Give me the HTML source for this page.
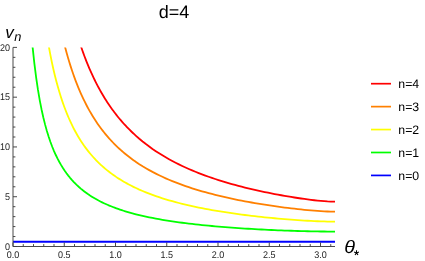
<!DOCTYPE html>
<html><head><meta charset="utf-8"><title>d=4</title>
<style>html,body{margin:0;padding:0;background:#fff;}body{width:425px;height:261px;position:relative;overflow:hidden;font-family:"Liberation Sans",sans-serif;}</style>
</head><body>
<svg width="425" height="261" viewBox="0 0 425 261" text-rendering="geometricPrecision" style="position:absolute;left:0;top:0;will-change:transform">
<defs><clipPath id="c"><rect x="11.00" y="47.40" width="326.01" height="202.10"/></clipPath></defs>
<g clip-path="url(#c)" fill="none" stroke-width="1.8" stroke-linejoin="round">
<path d="M30.85 27.43 L32.63 47.31 L34.42 63.87 L36.20 77.89 L37.98 89.91 L39.76 100.32 L41.55 109.44 L43.33 117.48 L45.11 124.63 L46.89 131.03 L48.67 136.79 L50.46 142.00 L52.24 146.73 L54.02 151.05 L55.80 155.02 L57.58 158.66 L59.37 162.03 L61.15 165.14 L62.93 168.04 L64.71 170.73 L66.50 173.24 L68.28 175.59 L70.06 177.79 L71.84 179.86 L73.62 181.81 L75.41 183.65 L77.19 185.38 L78.97 187.02 L80.75 188.57 L82.54 190.05 L84.32 191.44 L86.10 192.77 L87.88 194.04 L89.66 195.25 L91.45 196.40 L93.23 197.50 L95.01 198.55 L96.79 199.56 L98.57 200.53 L100.36 201.45 L102.14 202.34 L103.92 203.19 L105.70 204.01 L107.49 204.80 L109.27 205.56 L111.05 206.29 L112.83 207.00 L114.61 207.68 L116.40 208.34 L118.18 208.97 L119.96 209.58 L121.74 210.17 L123.52 210.75 L125.31 211.30 L127.09 211.84 L128.87 212.36 L130.65 212.86 L132.44 213.35 L134.22 213.82 L136.00 214.28 L139.30 215.10 L142.60 215.88 L145.90 216.61 L149.20 217.31 L152.50 217.97 L155.81 218.61 L159.11 219.21 L162.41 219.78 L165.71 220.33 L169.01 220.86 L172.31 221.36 L175.61 221.84 L178.91 222.30 L182.21 222.75 L185.51 223.17 L188.81 223.58 L192.11 223.97 L195.42 224.34 L198.72 224.71 L202.02 225.05 L205.32 225.39 L208.62 225.71 L211.92 226.02 L215.22 226.32 L218.52 226.60 L221.82 226.88 L225.12 227.15 L228.42 227.40 L231.72 227.65 L235.03 227.89 L238.33 228.12 L241.63 228.34 L244.93 228.55 L248.23 228.76 L251.53 228.96 L254.83 229.15 L258.13 229.33 L261.43 229.50 L264.73 229.67 L268.03 229.83 L271.33 229.99 L274.64 230.14 L277.94 230.28 L281.24 230.41 L284.54 230.54 L287.84 230.66 L291.14 230.77 L294.44 230.88 L297.74 230.98 L301.04 231.08 L304.34 231.16 L307.64 231.24 L310.94 231.31 L314.25 231.37 L317.55 231.43 L320.85 231.48 L324.15 231.51 L327.45 231.54 L330.75 231.56 L335.01 231.57" stroke="#00ff00"/>
<path d="M45.69 27.43 L47.22 37.23 L48.75 46.18 L50.28 54.40 L51.81 61.98 L53.34 68.97 L54.87 75.46 L56.40 81.48 L57.93 87.10 L59.46 92.35 L60.99 97.26 L62.52 101.87 L64.06 106.20 L65.59 110.28 L67.12 114.12 L68.65 117.76 L70.18 121.20 L71.71 124.46 L73.24 127.56 L74.77 130.50 L76.30 133.30 L77.83 135.97 L79.36 138.51 L80.89 140.94 L82.42 143.26 L83.95 145.48 L85.49 147.61 L87.02 149.65 L88.55 151.61 L90.08 153.49 L91.61 155.29 L93.14 157.03 L94.67 158.70 L96.20 160.31 L97.73 161.86 L99.26 163.36 L100.79 164.80 L102.32 166.19 L103.85 167.54 L105.39 168.84 L106.92 170.10 L108.45 171.32 L109.98 172.50 L111.51 173.65 L113.04 174.76 L114.57 175.83 L116.10 176.88 L117.63 177.89 L119.16 178.87 L120.69 179.83 L122.22 180.75 L123.75 181.66 L125.28 182.53 L126.82 183.39 L128.35 184.22 L129.88 185.03 L131.41 185.82 L132.94 186.59 L134.47 187.33 L136.00 188.06 L139.30 189.58 L142.60 191.01 L145.90 192.38 L149.20 193.67 L152.50 194.91 L155.81 196.09 L159.11 197.21 L162.41 198.28 L165.71 199.31 L169.01 200.29 L172.31 201.23 L175.61 202.14 L178.91 203.00 L182.21 203.83 L185.51 204.63 L188.81 205.40 L192.11 206.14 L195.42 206.85 L198.72 207.54 L202.02 208.20 L205.32 208.83 L208.62 209.45 L211.92 210.04 L215.22 210.62 L218.52 211.17 L221.82 211.70 L225.12 212.22 L228.42 212.72 L231.72 213.21 L235.03 213.67 L238.33 214.13 L241.63 214.57 L244.93 214.99 L248.23 215.40 L251.53 215.80 L254.83 216.18 L258.13 216.56 L261.43 216.92 L264.73 217.27 L268.03 217.60 L271.33 217.93 L274.64 218.24 L277.94 218.54 L281.24 218.84 L284.54 219.12 L287.84 219.39 L291.14 219.64 L294.44 219.89 L297.74 220.12 L301.04 220.34 L304.34 220.55 L307.64 220.74 L310.94 220.92 L314.25 221.08 L317.55 221.23 L320.85 221.35 L324.15 221.45 L327.45 221.53 L330.75 221.59 L335.01 221.61" stroke="#ffff00"/>
<path d="M60.40 27.43 L61.68 33.20 L62.96 38.66 L64.24 43.86 L65.52 48.80 L66.81 53.50 L68.09 57.99 L69.37 62.27 L70.65 66.36 L71.93 70.28 L73.21 74.02 L74.49 77.61 L75.78 81.06 L77.06 84.36 L78.34 87.54 L79.62 90.60 L80.90 93.53 L82.18 96.36 L83.46 99.09 L84.75 101.72 L86.03 104.26 L87.31 106.71 L88.59 109.07 L89.87 111.36 L91.15 113.57 L92.43 115.71 L93.71 117.79 L95.00 119.80 L96.28 121.74 L97.56 123.63 L98.84 125.46 L100.12 127.24 L101.40 128.96 L102.68 130.64 L103.97 132.27 L105.25 133.85 L106.53 135.39 L107.81 136.89 L109.09 138.35 L110.37 139.77 L111.65 141.15 L112.94 142.50 L114.22 143.81 L115.50 145.09 L116.78 146.34 L118.06 147.56 L119.34 148.75 L120.62 149.91 L121.90 151.04 L123.19 152.15 L124.47 153.23 L125.75 154.28 L127.03 155.32 L128.31 156.32 L129.59 157.31 L130.87 158.28 L132.16 159.22 L133.44 160.15 L134.72 161.05 L136.00 161.94 L139.30 164.14 L142.60 166.23 L145.90 168.21 L149.20 170.10 L152.50 171.90 L155.81 173.61 L159.11 175.25 L162.41 176.81 L165.71 178.31 L169.01 179.74 L172.31 181.11 L175.61 182.42 L178.91 183.69 L182.21 184.90 L185.51 186.07 L188.81 187.19 L192.11 188.27 L195.42 189.31 L198.72 190.31 L202.02 191.28 L205.32 192.21 L208.62 193.12 L211.92 193.99 L215.22 194.83 L218.52 195.64 L221.82 196.43 L225.12 197.19 L228.42 197.93 L231.72 198.64 L235.03 199.33 L238.33 200.01 L241.63 200.66 L244.93 201.29 L248.23 201.90 L251.53 202.49 L254.83 203.07 L258.13 203.62 L261.43 204.17 L264.73 204.69 L268.03 205.20 L271.33 205.69 L274.64 206.17 L277.94 206.64 L281.24 207.08 L284.54 207.52 L287.84 207.94 L291.14 208.34 L294.44 208.73 L297.74 209.10 L301.04 209.46 L304.34 209.80 L307.64 210.12 L310.94 210.41 L314.25 210.69 L317.55 210.94 L320.85 211.17 L324.15 211.36 L327.45 211.50 L330.75 211.61 L335.01 211.66" stroke="#ff8000"/>
<path d="M75.08 27.43 L76.11 31.01 L77.14 34.48 L78.17 37.84 L79.21 41.09 L80.24 44.24 L81.27 47.30 L82.30 50.27 L83.34 53.15 L84.37 55.94 L85.40 58.66 L86.43 61.30 L87.47 63.86 L88.50 66.36 L89.53 68.79 L90.57 71.15 L91.60 73.45 L92.63 75.69 L93.66 77.88 L94.70 80.01 L95.73 82.08 L96.76 84.11 L97.79 86.08 L98.83 88.01 L99.86 89.89 L100.89 91.73 L101.92 93.53 L102.96 95.28 L103.99 97.00 L105.02 98.67 L106.05 100.31 L107.09 101.91 L108.12 103.48 L109.15 105.01 L110.18 106.51 L111.22 107.98 L112.25 109.42 L113.28 110.83 L114.32 112.21 L115.35 113.57 L116.38 114.89 L117.41 116.19 L118.45 117.46 L119.48 118.71 L120.51 119.94 L121.54 121.14 L122.58 122.32 L123.61 123.48 L124.64 124.61 L125.67 125.73 L126.71 126.82 L127.74 127.90 L128.77 128.95 L129.80 129.99 L130.84 131.01 L131.87 132.01 L132.90 132.99 L133.93 133.96 L134.97 134.91 L136.00 135.84 L139.30 138.73 L142.60 141.47 L145.90 144.07 L149.20 146.54 L152.50 148.90 L155.81 151.15 L159.11 153.29 L162.41 155.34 L165.71 157.31 L169.01 159.19 L172.31 160.99 L175.61 162.71 L178.91 164.37 L182.21 165.96 L185.51 167.49 L188.81 168.97 L192.11 170.39 L195.42 171.75 L198.72 173.07 L202.02 174.34 L205.32 175.57 L208.62 176.76 L211.92 177.90 L215.22 179.01 L218.52 180.08 L221.82 181.12 L225.12 182.12 L228.42 183.10 L231.72 184.04 L235.03 184.95 L238.33 185.84 L241.63 186.70 L244.93 187.53 L248.23 188.34 L251.53 189.13 L254.83 189.89 L258.13 190.63 L261.43 191.35 L264.73 192.05 L268.03 192.73 L271.33 193.39 L274.64 194.03 L277.94 194.65 L281.24 195.25 L284.54 195.84 L287.84 196.41 L291.14 196.96 L294.44 197.49 L297.74 198.00 L301.04 198.49 L304.34 198.96 L307.64 199.41 L310.94 199.84 L314.25 200.24 L317.55 200.60 L320.85 200.94 L324.15 201.22 L327.45 201.46 L330.75 201.62 L335.01 201.70" stroke="#ff0000"/>
<path d="M13.00 241.75 L335.01 241.75" stroke="#0000ff"/>
</g>
<g stroke="#404040" stroke-width="0.95" fill="none">
<path d="M13.00 246.50 L335.01 246.50"/>
<path d="M13.00 246.50 L13.00 47.40"/>
<path d="M13.00 246.50 v-4.00"/>
<path d="M23.25 246.50 v-2.40"/>
<path d="M33.50 246.50 v-2.40"/>
<path d="M43.75 246.50 v-2.40"/>
<path d="M54.00 246.50 v-2.40"/>
<path d="M64.25 246.50 v-4.00"/>
<path d="M74.50 246.50 v-2.40"/>
<path d="M84.75 246.50 v-2.40"/>
<path d="M95.00 246.50 v-2.40"/>
<path d="M105.25 246.50 v-2.40"/>
<path d="M115.50 246.50 v-4.00"/>
<path d="M125.75 246.50 v-2.40"/>
<path d="M136.00 246.50 v-2.40"/>
<path d="M146.25 246.50 v-2.40"/>
<path d="M156.50 246.50 v-2.40"/>
<path d="M166.75 246.50 v-4.00"/>
<path d="M177.00 246.50 v-2.40"/>
<path d="M187.25 246.50 v-2.40"/>
<path d="M197.50 246.50 v-2.40"/>
<path d="M207.75 246.50 v-2.40"/>
<path d="M218.00 246.50 v-4.00"/>
<path d="M228.25 246.50 v-2.40"/>
<path d="M238.50 246.50 v-2.40"/>
<path d="M248.75 246.50 v-2.40"/>
<path d="M259.00 246.50 v-2.40"/>
<path d="M269.25 246.50 v-4.00"/>
<path d="M279.50 246.50 v-2.40"/>
<path d="M289.75 246.50 v-2.40"/>
<path d="M300.00 246.50 v-2.40"/>
<path d="M310.25 246.50 v-2.40"/>
<path d="M320.50 246.50 v-4.00"/>
<path d="M330.75 246.50 v-2.40"/>
<path d="M13.00 246.50 h4.00"/>
<path d="M13.00 236.54 h2.40"/>
<path d="M13.00 226.59 h2.40"/>
<path d="M13.00 216.63 h2.40"/>
<path d="M13.00 206.68 h2.40"/>
<path d="M13.00 196.72 h4.00"/>
<path d="M13.00 186.77 h2.40"/>
<path d="M13.00 176.81 h2.40"/>
<path d="M13.00 166.86 h2.40"/>
<path d="M13.00 156.91 h2.40"/>
<path d="M13.00 146.95 h4.00"/>
<path d="M13.00 137.00 h2.40"/>
<path d="M13.00 127.04 h2.40"/>
<path d="M13.00 117.09 h2.40"/>
<path d="M13.00 107.13 h2.40"/>
<path d="M13.00 97.18 h4.00"/>
<path d="M13.00 87.22 h2.40"/>
<path d="M13.00 77.26 h2.40"/>
<path d="M13.00 67.31 h2.40"/>
<path d="M13.00 57.35 h2.40"/>
<path d="M13.00 47.40 h4.00"/>
</g>
<g font-family="Liberation Sans, sans-serif" font-size="9" fill="#1c1c1c">
<text transform="translate(13.00 257.75) scale(1 1.08)" text-anchor="middle">0.0</text>
<text transform="translate(64.25 257.75) scale(1 1.08)" text-anchor="middle">0.5</text>
<text transform="translate(115.50 257.75) scale(1 1.08)" text-anchor="middle">1.0</text>
<text transform="translate(166.75 257.75) scale(1 1.08)" text-anchor="middle">1.5</text>
<text transform="translate(218.00 257.75) scale(1 1.08)" text-anchor="middle">2.0</text>
<text transform="translate(269.25 257.75) scale(1 1.08)" text-anchor="middle">2.5</text>
<text transform="translate(320.50 257.75) scale(1 1.08)" text-anchor="middle">3.0</text>
<text transform="translate(10.00 249.60) scale(1 1.08)" text-anchor="end">0</text>
<text transform="translate(10.00 199.82) scale(1 1.08)" text-anchor="end">5</text>
<text transform="translate(10.00 150.05) scale(1 1.08)" text-anchor="end">10</text>
<text transform="translate(10.00 100.28) scale(1 1.08)" text-anchor="end">15</text>
<text transform="translate(10.00 50.50) scale(1 1.08)" text-anchor="end">20</text>
</g>
<g stroke-width="1.7" fill="none">
<path d="M371 83.70 H391" stroke="#ff0000"/>
<path d="M371 106.63 H391" stroke="#ff8000"/>
<path d="M371 129.56 H391" stroke="#ffff00"/>
<path d="M371 152.49 H391" stroke="#00ff00"/>
<path d="M371 175.42 H391" stroke="#0000ff"/>
</g>
<g font-family="Liberation Sans, sans-serif" font-size="12.3" fill="#000">
<text x="398.3" y="87.90">n=4</text>
<text x="398.3" y="110.83">n=3</text>
<text x="398.3" y="133.76">n=2</text>
<text x="398.3" y="156.69">n=1</text>
<text x="398.3" y="179.62">n=0</text>
</g>
<text x="174" y="17.9" text-anchor="middle" font-family="Liberation Sans, sans-serif" font-size="18" fill="#000">d=4</text>
<text x="5.3" y="37.5" font-family="Liberation Sans, sans-serif" font-style="italic" font-size="17" fill="#000">v<tspan font-size="12.8" dy="3.0" dx="0.5">n</tspan></text>
<text transform="translate(344.2 253.2) scale(1.1 1)" x="0" y="0" font-family="Liberation Sans, sans-serif" font-style="italic" font-size="18" fill="#000">θ</text>
<path d="M356.50 252.90 L356.50 250.35 M356.50 252.90 L358.93 252.11 M356.50 252.90 L358.00 254.96 M356.50 252.90 L355.00 254.96 M356.50 252.90 L354.07 252.11 " stroke="#000" stroke-width="1.05" fill="none"/>
</svg>
</body></html>
